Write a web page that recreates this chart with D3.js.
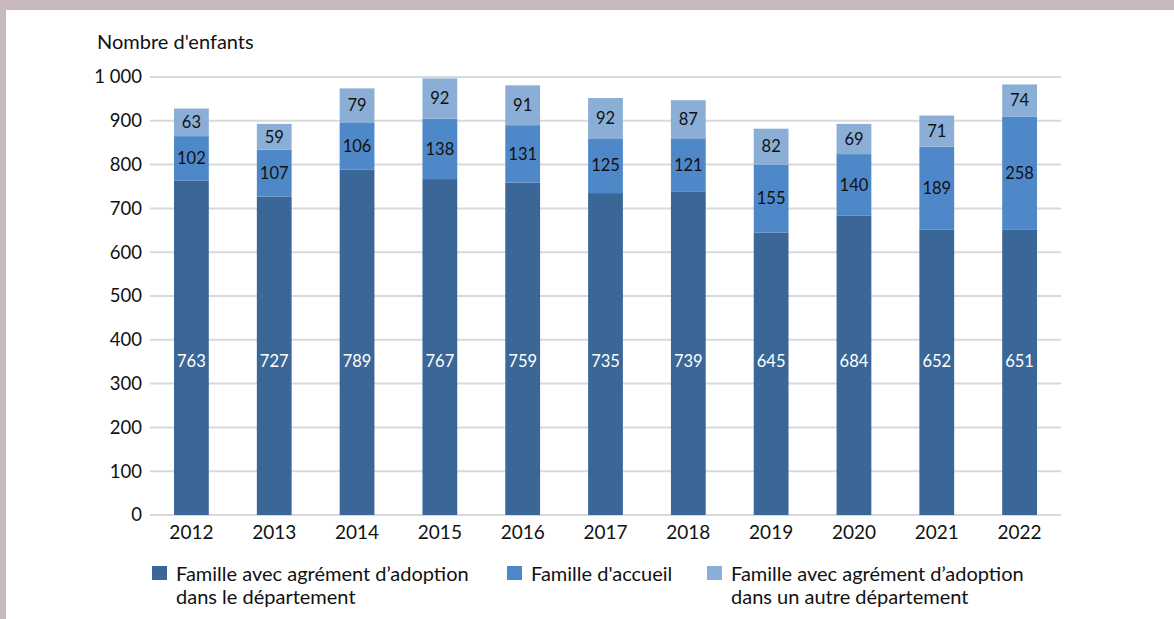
<!DOCTYPE html>
<html>
<head>
<meta charset="utf-8">
<script src="https://cdn.jsdelivr.net/npm/d3@7"></script>
<style>
  html, body { margin: 0; padding: 0; background: #c8b9c0; }
  #frame { position: absolute; left: 6px; top: 10px; width: 1168px; height: 609px; background: #fff; }
  svg { display: block; font-family: Lato, "Open Sans", sans-serif; }
</style>
</head>
<body>
<div id="frame"></div>
<svg id="chart" width="1174" height="619" style="position:absolute;left:0;top:0"></svg>
<script>
const years = ["2012", "2013", "2014", "2015", "2016", "2017", "2018", "2019", "2020", "2021", "2022"];
const dansDepartement = [763, 727, 789, 767, 759, 735, 739, 645, 684, 652, 651];
const familleAccueil = [102, 107, 106, 138, 131, 125, 121, 155, 140, 189, 258];
const autreDepartement = [63, 59, 79, 92, 91, 92, 87, 82, 69, 71, 74];
const yTicks = [0, 100, 200, 300, 400, 500, 600, 700, 800, 900, 1000];
const seriesNames = [
    ["Famille avec agrément d\u2019adoption", "dans le département"],
    ["Famille d'accueil"],
    ["Famille avec agrément d\u2019adoption", "dans un autre département"]
];
const colors = ["#3a6797", "#4f88c8", "#8aaed5"];
const labelColors = ["#fff", "#111", "#111"];
// the labels of the bottom series sit at a common level, not in the segment middle
const darkLabelLevel = 350;

const svg = d3.select("#chart");
const margin = { left: 150, right: 113, top: 77, bottom: 104 };
const width = 1174, height = 619;

const xScale = d3.scaleBand()
    .domain(years)
    .range([margin.left, width - margin.right])
    .paddingInner(0.58)
    .paddingOuter(0.29);
const yScale = d3.scaleLinear()
    .domain([0, 1000])
    .range([height - margin.bottom, margin.top]);

// Gridlines
svg.append("g")
    .selectAll("line")
    .data(yTicks)
    .join("line")
    .attr("x1", margin.left)
    .attr("x2", width - margin.right)
    .attr("y1", d => yScale(d))
    .attr("y2", d => yScale(d))
    .attr("stroke", "#d9d9d9")
    .attr("stroke-width", 2);

// Stack data
const rows = years.map((y, i) => ({ year: y, a: dansDepartement[i], b: familleAccueil[i], c: autreDepartement[i] }));
const stack = d3.stack().keys(["a", "b", "c"]);
const layers = stack(rows);

const g_bars = svg.append("g");
layers.forEach((layer, li) => {
    g_bars.append("g")
        .selectAll("rect")
        .data(layer)
        .join("rect")
        .attr("x", d => xScale(d.data.year))
        .attr("width", xScale.bandwidth())
        .attr("y", d => yScale(d[1]))
        .attr("height", d => yScale(d[0]) - yScale(d[1]))
        .attr("fill", colors[li]);

    g_bars.append("g")
        .selectAll("text")
        .data(layer)
        .join("text")
        .attr("x", d => xScale(d.data.year) + xScale.bandwidth() / 2)
        .attr("y", d => li === 0 ? yScale(darkLabelLevel) : (yScale(d[0]) + yScale(d[1])) / 2)
        .attr("dy", "0.35em")
        .attr("text-anchor", "middle")
        .attr("font-size", "16.5px")
        .attr("fill", labelColors[li])
        .text(d => d[1] - d[0]);
});

// Axes
const fmt = d => d >= 1000 ? d3.format(",")(d).replace(",", " ") : d;
const y_axis = d3.axisLeft(yScale).tickValues(yTicks).tickSize(0).tickPadding(8).tickFormat(fmt);
svg.append("g")
    .attr("transform", "translate(" + margin.left + ",0)")
    .call(y_axis)
    .call(g => g.select(".domain").remove())
    .selectAll("text")
    .attr("font-size", "18.5px")
    .attr("font-family", "Lato, sans-serif")
    .attr("fill", "#111");

const x_axis = d3.axisBottom(xScale).tickSize(0).tickPadding(11);
svg.append("g")
    .attr("transform", "translate(0," + (height - margin.bottom) + ")")
    .call(x_axis)
    .call(g => g.select(".domain").remove())
    .selectAll("text")
    .attr("font-size", "19px")
    .attr("font-family", "Lato, sans-serif")
    .attr("fill", "#111");

// Y title
svg.append("text")
    .attr("x", 97)
    .attr("y", 49)
    .attr("font-size", "20px")
    .attr("fill", "#111")
    .text("Nombre d'enfants");

// Legend
const legendX = [152, 507, 707];
const legend = svg.append("g")
    .selectAll("g")
    .data(seriesNames)
    .join("g")
    .attr("transform", (d, i) => `translate(${legendX[i]}, 566)`);

legend.append("rect")
    .attr("width", 15)
    .attr("height", 14)
    .attr("fill", (d, i) => colors[i]);

legend.append("text")
    .attr("x", 24)
    .attr("y", 15)
    .attr("font-size", "20px")
    .attr("fill", "#111")
    .selectAll("tspan")
    .data(d => d)
    .join("tspan")
    .attr("x", 24)
    .attr("dy", (d, i) => i === 0 ? 0 : 23)
    .text(d => d);
</script>
</body>
</html>
